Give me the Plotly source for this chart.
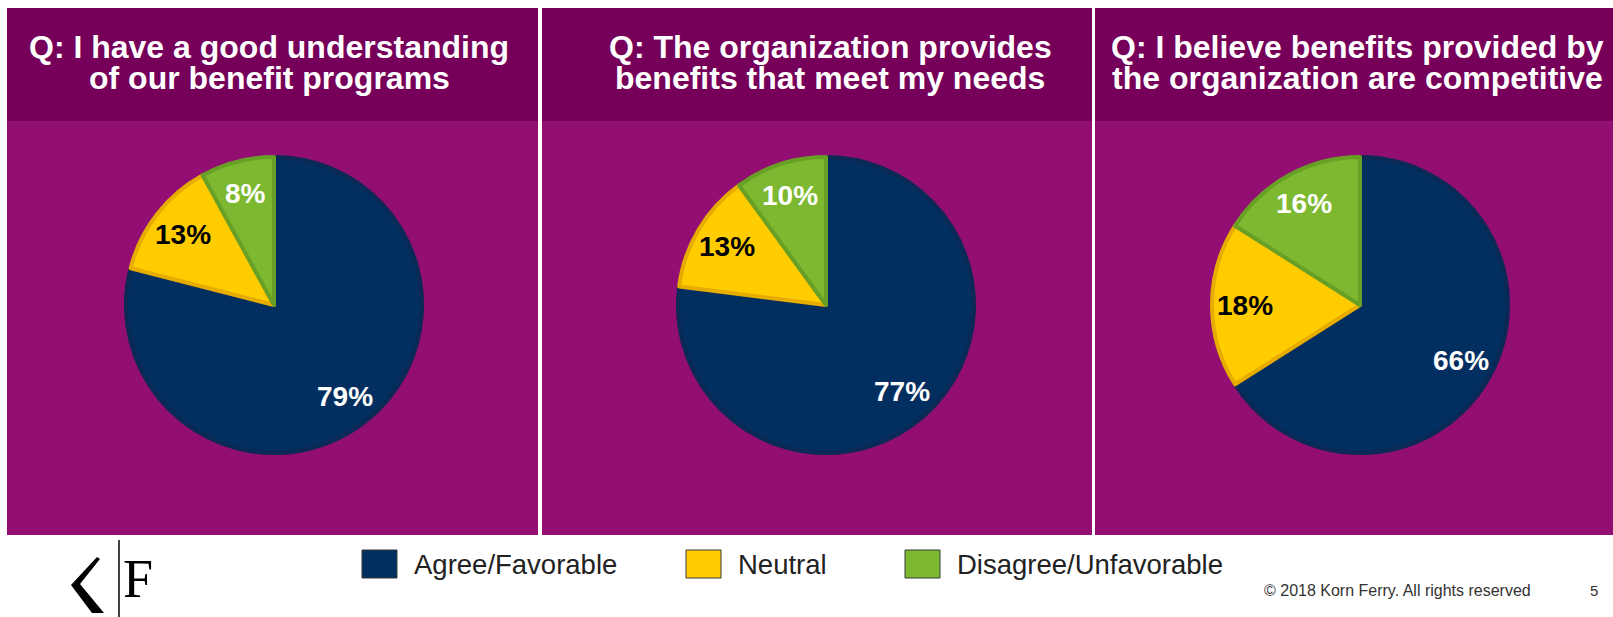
import math
import plotly.graph_objects as go

W, H = 1613, 617

# ---- data -------------------------------------------------------------
categories = ["Agree/Favorable", "Neutral", "Disagree/Unfavorable"]
question_lines = [
    ["Q: I have a good understanding", "of our benefit programs"],
    ["Q: The organization provides", "benefits that meet my needs"],
    ["Q: I believe benefits provided by", "the organization are competitive"],
]
q1_values = [79, 13, 8]
q2_values = [77, 13, 10]
q3_values = [66, 18, 16]
survey_values = [q1_values, q2_values, q3_values]

# ---- style ------------------------------------------------------------
slice_colors = ["#032E60", "#FFCC00", "#7DB930"]
edge_colors = ["#0A2954", "#E6AC00", "#68A026"]
label_colors = ["white", "black", "white"]
header_color = "#760059"
body_color = "#920E72"
FONT = "Liberation Sans, Arial, sans-serif"

# panel extents and pie geometry in pixels
panel_x = [(7, 538), (542, 1092), (1095, 1613)]
panel_top, header_bottom, panel_bottom = 8, 121, 535
pie_cx = [274, 826, 1360]
pie_cy = 305
pie_r = 148
title_cx = [269, 830, 1357]
title_line_y = [47, 78]
label_radius = 0.78

legend_x = [362, 686, 905]
legend_box = (35, 28)
legend_cy = 564


def px(x):
    return x / W


def py(y):
    return 1 - y / H


fig = go.Figure()
shapes = []
annotations = []

for i, (x0, x1) in enumerate(panel_x):
    shapes.append(dict(type="rect", xref="paper", yref="paper",
                       x0=px(x0), x1=px(x1), y0=py(header_bottom), y1=py(panel_top),
                       fillcolor=header_color, line_width=0, layer="below"))
    shapes.append(dict(type="rect", xref="paper", yref="paper",
                       x0=px(x0), x1=px(x1), y0=py(panel_bottom), y1=py(header_bottom),
                       fillcolor=body_color, line_width=0, layer="below"))
    for line, ly in zip(question_lines[i], title_line_y):
        annotations.append(dict(xref="paper", yref="paper", x=px(title_cx[i]), y=py(ly),
                                text=f"<b>{line}</b>", showarrow=False,
                                xanchor="center", yanchor="middle", borderpad=0,
                                font=dict(family=FONT, size=32, color="white")))

for i, values in enumerate(survey_values):
    cx = pie_cx[i]
    fig.add_trace(go.Pie(
        labels=categories, values=values, sort=False, direction="clockwise",
        rotation=0, textinfo="none", hoverinfo="label+percent", showlegend=False,
        marker=dict(colors=slice_colors, line=dict(color=edge_colors, width=4)),
        domain=dict(x=[px(cx - pie_r), px(cx + pie_r)],
                    y=[py(pie_cy + pie_r), py(pie_cy - pie_r)]),
    ))
    total = sum(values)
    start = 0
    for v, col in zip(values, label_colors):
        mid = (start + v / 2) / total * 2 * math.pi
        lx = cx + label_radius * pie_r * math.sin(mid)
        ly = pie_cy - label_radius * pie_r * math.cos(mid)
        annotations.append(dict(xref="paper", yref="paper", x=px(lx), y=py(ly),
                                text=f"<b>{v}%</b>", showarrow=False,
                                xanchor="center", yanchor="middle",
                                font=dict(family=FONT, size=28, color=col)))
        start += v

# legend
bw, bh = legend_box
for name, col, lx in zip(categories, slice_colors, legend_x):
    shapes.append(dict(type="rect", xref="paper", yref="paper",
                       x0=px(lx), x1=px(lx + bw),
                       y0=py(legend_cy + bh / 2), y1=py(legend_cy - bh / 2),
                       fillcolor=col, line=dict(color="#3A3A3A", width=1)))
    annotations.append(dict(xref="paper", yref="paper", x=px(lx + bw + 15), y=py(legend_cy),
                            text=name, showarrow=False, xanchor="left", yanchor="middle",
                            font=dict(family=FONT, size=27.5, color="#222222")))

# footer
annotations.append(dict(xref="paper", yref="paper", x=px(1262), y=py(590),
                        text="© 2018 Korn Ferry. All rights reserved", showarrow=False,
                        xanchor="left", yanchor="middle",
                        font=dict(family=FONT, size=16, color="#333333")))
annotations.append(dict(xref="paper", yref="paper", x=px(1594), y=py(590),
                        text="5", showarrow=False, xanchor="center", yanchor="middle",
                        font=dict(family=FONT, size=15, color="#333333")))

# logo mark
chevron = [(97, 557), (100, 559), (80, 584), (104, 613), (92, 613), (71, 585)]
path = "M " + " L ".join(f"{px(x)},{py(y)}" for x, y in chevron) + " Z"
shapes.append(dict(type="path", xref="paper", yref="paper", path=path,
                   fillcolor="black", line_width=0))
shapes.append(dict(type="line", xref="paper", yref="paper",
                   x0=px(119), x1=px(119), y0=py(540), y1=py(617),
                   line=dict(color="black", width=1.5)))
annotations.append(dict(xref="paper", yref="paper", x=px(121), y=py(579),
                        text="F", showarrow=False, xanchor="left", yanchor="middle",
                        font=dict(family="Liberation Serif, serif", size=54, color="black")))

fig.update_layout(width=W, height=H, margin=dict(l=0, r=0, t=0, b=0),
                  paper_bgcolor="white", plot_bgcolor="white",
                  shapes=shapes, annotations=annotations)

fig.write_html("out.html")
